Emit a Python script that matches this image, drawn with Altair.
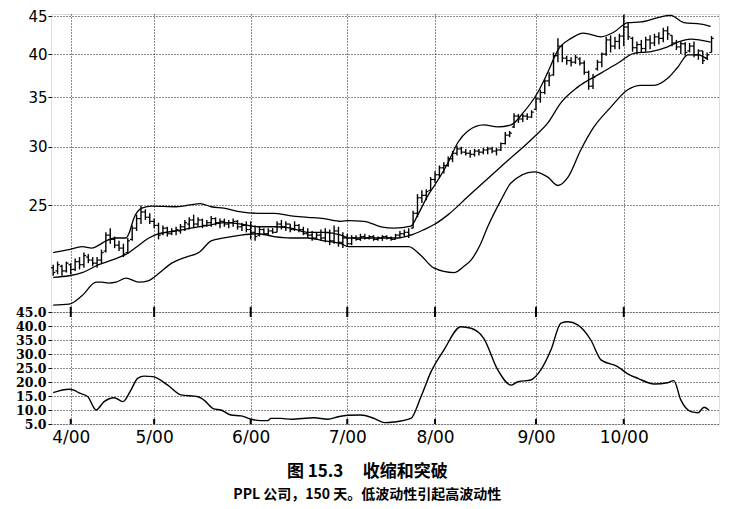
import altair as alt
import pandas as pd

# ---- OHLC price bars (trading-day index 0..150) ----
lows = [20.1, 20.2, 20.1, 20.3, 20.2, 20.4, 20.5, 20.6, 20.9, 20.7,
        20.6, 20.9, 21.6, 22.2, 21.9, 21.7, 21.3, 21.5, 22.4, 23.1,
        23.6, 23.9, 23.6, 23.3, 22.5, 22.8, 22.7, 22.8, 22.8, 22.9,
        23.1, 23.2, 23.3, 23.4, 23.3, 23.4, 23.4, 23.5, 23.3, 23.4,
        23.3, 23.4, 23.2, 23.1, 23.0, 22.5, 22.4, 22.7, 22.8, 22.8,
        22.9, 23.0, 23.2, 23.1, 23.0, 23.1, 23.0, 22.8, 22.6, 22.4,
        22.5, 22.4, 22.3, 22.1, 22.2, 22.0, 21.9, 22.0, 22.1, 22.4,
        22.4, 22.5, 22.5, 22.4, 22.4, 22.4, 22.5, 22.4, 22.5, 22.6,
        22.7, 22.6, 23.3, 24.1, 25.2, 25.4, 26.2, 26.8, 27.2, 27.6,
        28.2, 28.6, 29.2, 29.3, 29.2, 29.0, 29.1, 29.2, 29.3, 29.3,
        29.4, 29.2, 29.6, 30.2, 30.9, 31.8, 32.3, 32.4, 32.6, 32.8,
        33.6, 34.4, 35.3, 36.2, 37.4, 39.0, 39.0, 38.7, 38.5, 38.8,
        38.6, 37.5, 35.8, 35.9, 38.0, 38.4, 39.8, 40.2, 40.6, 40.6,
        41.0, 41.8, 40.3, 40.0, 40.2, 40.3, 40.6, 41.0, 41.2, 41.5,
        41.8, 41.0, 40.5, 40.0, 39.8, 40.2, 39.6, 39.3, 38.8, 39.4,
        40.2]
highs = [20.8, 21.0, 20.8, 21.0, 20.9, 21.2, 21.3, 21.6, 21.5, 21.3,
         21.3, 21.8, 23.0, 23.3, 22.7, 22.4, 22.2, 22.6, 23.5, 24.3,
         25.0, 24.7, 24.4, 24.0, 23.7, 23.5, 23.4, 23.3, 23.4, 23.6,
         23.9, 24.1, 24.3, 24.1, 24.0, 23.9, 24.2, 24.1, 24.0, 24.0,
         23.9, 24.0, 23.9, 23.7, 23.8, 23.8, 23.5, 23.4, 23.3, 23.3,
         23.3, 23.8, 23.9, 23.8, 23.6, 23.8, 23.6, 23.4, 23.3, 23.1,
         23.0, 23.2, 23.3, 23.2, 23.5, 23.4, 23.0, 22.9, 22.8, 22.8,
         22.9, 22.9, 22.8, 22.8, 22.7, 22.8, 22.8, 22.7, 22.9, 23.1,
         23.2, 23.3, 24.6, 25.9, 26.2, 26.3, 27.3, 27.8, 28.3, 28.6,
         29.1, 29.6, 30.1, 30.0, 29.8, 29.7, 29.8, 29.8, 29.9, 30.0,
         30.0, 29.9, 30.4, 31.4, 31.5, 33.3, 33.2, 33.2, 33.3, 33.6,
         35.0, 35.8, 37.0, 37.8, 40.2, 42.0, 41.2, 39.8, 39.6, 39.9,
         39.6, 39.2, 38.0, 37.6, 39.3, 40.2, 42.2, 42.4, 42.2, 42.6,
         45.2, 44.2, 42.2, 41.6, 41.8, 42.2, 42.4, 42.6, 42.8, 43.4,
         43.6, 42.4, 41.8, 41.6, 41.5, 41.4, 41.6, 40.6, 40.4, 40.2,
         42.3]
opens = [20.6, 20.4, 20.7, 20.4, 20.8, 20.5, 21.0, 20.8, 21.3, 21.1,
         20.9, 21.1, 21.7, 22.8, 22.5, 22.1, 21.9, 21.6, 22.5, 23.3,
         24.0, 24.5, 24.1, 23.8, 23.5, 22.9, 23.3, 22.9, 23.1, 23.1,
         23.4, 23.6, 23.9, 23.6, 23.9, 23.5, 23.7, 24.0, 23.7, 23.8,
         23.6, 23.7, 23.8, 23.4, 23.5, 23.2, 23.0, 22.8, 23.2, 22.9,
         23.1, 23.0, 23.6, 23.4, 23.6, 23.2, 23.5, 23.2, 22.9, 22.8,
         22.6, 22.8, 22.6, 23.0, 22.4, 23.1, 22.3, 22.6, 22.2, 22.6,
         22.5, 22.7, 22.6, 22.7, 22.5, 22.6, 22.7, 22.6, 22.5, 22.8,
         22.9, 23.0, 23.3, 24.4, 25.6, 25.8, 26.2, 27.1, 27.5, 28.1,
         28.3, 28.9, 29.4, 29.8, 29.5, 29.4, 29.3, 29.6, 29.5, 29.7,
         29.8, 29.6, 29.7, 30.3, 31.1, 31.9, 33.0, 32.7, 33.0, 32.9,
         33.7, 34.8, 35.5, 36.8, 37.5, 39.8, 41.0, 39.5, 39.2, 39.0,
         39.4, 38.9, 37.8, 36.2, 38.2, 39.0, 40.0, 41.8, 41.0, 41.6,
         42.3, 43.5, 42.0, 40.8, 41.2, 40.7, 41.8, 41.4, 42.2, 42.0,
         43.0, 42.4, 41.4, 40.9, 41.3, 40.4, 41.0, 39.9, 40.4, 39.5,
         40.2]
closes = [20.3, 20.8, 20.4, 20.9, 20.5, 21.0, 20.8, 21.4, 21.1, 20.9,
          21.1, 21.6, 22.8, 22.5, 22.1, 21.9, 21.5, 22.4, 23.3, 24.0,
          24.5, 24.1, 23.8, 23.5, 22.8, 23.3, 22.9, 23.1, 23.2, 23.4,
          23.7, 23.9, 23.6, 23.9, 23.5, 23.7, 24.0, 23.7, 23.8, 23.6,
          23.7, 23.8, 23.4, 23.5, 23.2, 23.0, 22.7, 23.2, 22.9, 23.1,
          23.0, 23.6, 23.4, 23.6, 23.2, 23.5, 23.2, 22.9, 22.8, 22.6,
          22.8, 22.6, 23.0, 22.4, 23.1, 22.3, 22.6, 22.2, 22.6, 22.5,
          22.7, 22.6, 22.7, 22.5, 22.6, 22.7, 22.6, 22.5, 22.8, 22.9,
          23.0, 22.8, 24.4, 25.6, 25.8, 26.1, 27.1, 27.5, 28.1, 28.3,
          28.9, 29.4, 29.8, 29.5, 29.4, 29.3, 29.6, 29.5, 29.7, 29.8,
          29.6, 29.7, 30.3, 31.1, 31.3, 33.0, 32.7, 33.0, 32.9, 33.4,
          34.8, 35.5, 36.8, 37.4, 39.8, 41.0, 39.5, 39.2, 39.0, 39.6,
          38.9, 37.8, 36.2, 37.2, 39.0, 40.0, 41.8, 41.0, 41.6, 42.3,
          43.5, 42.2, 40.8, 41.2, 40.7, 41.8, 41.4, 42.2, 42.0, 43.0,
          42.6, 41.4, 40.9, 41.3, 40.2, 41.0, 39.9, 40.4, 39.2, 39.9,
          42.0]

# ---- Bollinger bands (sampled points: day index, price) ----
upper_t = [0, 3.6, 6.6, 8.8, 10.4, 12, 14.3, 16.6, 17.3, 18.4, 20.2, 22.5, 28, 33.5,
           36, 38.9, 42.8, 46.7, 50.3, 54.2, 58, 61.7, 65.6, 67.2, 70.8, 74.7, 77.6,
           81.5, 83.1, 85.4, 86.7, 89.9, 92.2, 94.5, 98.1, 101.3, 104.3, 107.2, 110.4,
           112.6, 115, 118, 120.8, 124.8, 127.7, 130.9, 133.9, 137.8, 140.7, 143.7,
           147.6, 149.8]
upper_v = [21.6, 21.8, 22.0, 21.9, 22.1, 22.4, 22.6, 22.6, 22.95, 24.05, 24.8, 24.95, 24.9, 25.15,
           24.9, 24.8, 24.5, 24.4, 24.4, 24.2, 24.1, 24.0, 23.8, 23.85, 23.8, 23.4, 23.3,
           23.45, 24.3, 25.8, 26.5, 28.5, 30.4, 31.5, 32.1, 31.9, 32.1, 33.4, 35.5,
           37.7, 40.5, 42.0, 42.7, 42.2, 42.8, 44.1, 44.2, 44.8, 45.1, 44.1,
           43.9, 43.6]
middle_t = [0, 3.6, 6.6, 10.4, 14.3, 17.3, 19.5, 21.8, 24.1, 28, 31.4, 35.2, 38.9, 42.8,
            46.7, 50.3, 54.2, 58, 61.7, 65.6, 67.2, 70.8, 74.7, 78.5, 81.5, 84.5, 87,
            90, 94.5, 102, 109.5, 112.7, 115.7, 119.5, 124.8, 128.7, 132.3, 136.2,
            140, 142.3, 145.3, 149.8]
middle_v = [20.0, 20.1, 20.3, 20.8, 21.2, 21.6, 22.1, 22.6, 22.9, 23.1, 23.3, 23.5, 23.7, 23.6,
            23.4, 23.4, 23.3, 23.0, 23.0, 22.8, 22.6, 22.6, 22.6, 22.6, 22.8, 23.2, 23.6,
            24.3, 25.7, 28.2, 30.9, 32.3, 34.4, 36.1, 37.7, 38.9, 40.1, 40.3,
            40.9, 41.5, 41.9, 41.5]
lower_t = [0, 3.6, 6.6, 9.8, 11.1, 12.7, 14.3, 16.6, 19.5, 21.8, 24.1, 27, 30.3, 33.2,
           36, 38.9, 42.8, 46.7, 50.3, 54.2, 58, 61.7, 65.6, 67.2, 70.8, 74.7, 81,
           83.8, 86.7, 91.3, 93.6, 95.2, 97.4, 99, 102, 104.3, 109.5, 112.7, 115,
           117.3, 120.2, 123.2, 127, 130.9, 133.9, 136.9, 140, 142.3, 144.6, 146.9,
           149.2]
lower_v = [18.35, 18.4, 18.9, 19.7, 19.7, 19.65, 19.7, 19.95, 19.7, 19.8, 20.25, 20.9, 21.3, 21.6,
           22.4, 22.6, 22.8, 22.9, 22.7, 22.6, 22.6, 22.4, 22.2, 22.0, 22.0, 22.0, 22.0,
           21.4, 20.6, 20.3, 20.7, 21.1, 22.2, 23.4, 25.4, 26.8, 27.75, 27.3, 26.6,
           27.3, 29.7, 31.9, 33.9, 35.8, 36.3, 36.3, 37.1, 38.4, 39.9, 39.9,
           39.3]

# ---- BandWidth (lower panel) ----
bw_t = [0, 3.6, 4.7, 5.9, 7.9, 9.3, 9.75, 11.6, 13.9, 15.9, 17.7, 19.3, 20.7, 22.7,
        26.1, 29.1, 33, 34.3, 36.6, 38.2, 40.5, 42.8, 45.1, 47.3, 48.9, 49.6, 51.9,
        54.2, 59.4, 62.6, 64.9, 67.2, 70.1, 72.4, 73.1, 75.4, 77.6, 81.5, 83.8, 86.1,
        89, 92.9, 95.2, 98.1, 101.3, 104.3, 105.9, 108.8, 111.1, 113.4, 115.7, 117.3,
        119.5, 122.5, 124.8, 128.6, 130.9, 133.2, 136.9, 140, 141.4, 143, 145.3,
        146.9, 148.3, 149.4]
bw_v = [16.2, 17.4, 17.1, 16.1, 14.75, 10.7, 10.0, 13.0, 14.4, 13.0, 17.1, 21.4, 22.1, 21.9,
        18.9, 15.4, 14.75, 13.6, 10.4, 10.0, 8.2, 7.9, 6.7, 6.2, 6.2, 7.0, 7.0,
        6.7, 7.25, 6.7, 7.6, 8.1, 8.2, 7.4, 7.0, 5.5, 5.7, 7.0, 14.75, 23.7,
        31.4, 39.75, 39.2, 35.6, 24.3, 18.9, 20.1, 20.7, 24.3, 31.4, 41.0, 41.5,
        40.4, 35.0, 27.9, 25.5, 22.9, 21.3, 19.3, 19.75, 20.5, 13.6, 9.4,
        9.0, 11.0, 10.0]

month_ticks = [4, 23, 45, 67, 87, 110, 130]
month_labels = ["4/00", "5/00", "6/00", "7/00", "8/00", "9/00", "10/00"]
price_ticks = [25, 30, 35, 40, 45]
bw_ticks = [5, 10, 15, 20, 25, 30, 35, 40, 45]

days = list(range(len(closes)))
bars = pd.DataFrame({"day": days, "low": lows, "high": highs, "open": opens, "close": closes})
bands = pd.concat([
    pd.DataFrame({"t": upper_t, "v": upper_v, "band": "upper"}),
    pd.DataFrame({"t": middle_t, "v": middle_v, "band": "middle"}),
    pd.DataFrame({"t": lower_t, "v": lower_v, "band": "lower"}),
])
bw = pd.DataFrame({"t": bw_t, "v": bw_v})
months = pd.DataFrame({"m": month_ticks})

label_expr = " : ".join(
    f"datum.value == {v} ? '{l}'" for v, l in zip(month_ticks, month_labels)
) + " : ''"

X_DOM = [-0.5, 151.7]
P_DOM = [17.96, 45.3]
xs = alt.Scale(domain=X_DOM, nice=False, zero=False)
ys = alt.Scale(type="log", domain=P_DOM, nice=False)
bs = alt.Scale(domain=[5, 45], nice=False, zero=False)

grid_kw = dict(grid=True, gridColor="black", gridDash=[1, 2], gridWidth=1, gridOpacity=0.9)
x_axis_top = alt.Axis(values=month_ticks, labels=False, ticks=False, domain=False, title=None, **grid_kw)
y_axis_top = alt.Axis(values=price_ticks, title=None, domain=False, ticks=True, tickSize=3,
                      tickColor="black", labelPadding=1, labelFont="DejaVu Sans",
                      labelFontSize=15, labelColor="black", labelOverlap=False, **grid_kw)
x_axis_bot = alt.Axis(values=month_ticks, labelExpr=label_expr, ticks=False, domain=False,
                      title=None, labelFont="DejaVu Sans", labelFontSize=17, labelColor="black",
                      labelPadding=5, labelFlush=False, labelOverlap=False, **grid_kw)
y_axis_bot = alt.Axis(values=bw_ticks, format=".1f", title=None, domain=False, ticks=True,
                      tickSize=3, tickColor="black", labelPadding=2,
                      labelFont="DejaVu Serif", labelFontWeight="bold", labelFontSize=12.5,
                      labelColor="black", labelOverlap=False, labelBound=False, **grid_kw)

def xt(field):
    return alt.X(field, scale=xs, axis=x_axis_top)

def yt(field):
    return alt.Y(field, scale=ys, axis=y_axis_top)

hl = alt.Chart(bars).mark_rule(color="black", strokeWidth=1.4).encode(
    x=xt("day:Q"), y=yt("low:Q"), y2="high:Q")
op = alt.Chart(bars).transform_calculate(xl="datum.day - 0.5").mark_rule(
    color="black", strokeWidth=1.2).encode(x=xt("xl:Q"), x2="day:Q", y=yt("open:Q"))
cl = alt.Chart(bars).transform_calculate(xr="datum.day + 0.5").mark_rule(
    color="black", strokeWidth=1.2).encode(x=xt("day:Q"), x2="xr:Q", y=yt("close:Q"))
bl = alt.Chart(bands).mark_line(color="black", strokeWidth=1.3, interpolate="monotone").encode(
    x=xt("t:Q"), y=yt("v:Q"), detail="band:N")
mt_top = alt.Chart(months).mark_rule(color="black", strokeWidth=2).encode(
    x=xt("m:Q"),
    y=alt.YDatum(P_DOM[0], scale=ys, axis=y_axis_top),
    y2=alt.Y2Datum(18.25))

top = alt.layer(hl, op, cl, bl, mt_top).properties(width=668, height=298)

def xb(field):
    return alt.X(field, scale=xs, axis=x_axis_bot)

bwl = alt.Chart(bw).mark_line(color="black", strokeWidth=1.4, interpolate="monotone").encode(
    x=xb("t:Q"), y=alt.Y("v:Q", scale=bs, axis=y_axis_bot))
mt_b1 = alt.Chart(months).mark_rule(color="black", strokeWidth=2).encode(
    x=xb("m:Q"), y=alt.YDatum(45, scale=bs, axis=y_axis_bot), y2=alt.Y2Datum(43.2))
mt_b2 = alt.Chart(months).mark_rule(color="black", strokeWidth=2).encode(
    x=xb("m:Q"), y=alt.YDatum(5, scale=bs, axis=y_axis_bot), y2=alt.Y2Datum(6.8))

bottom = alt.layer(bwl, mt_b1, mt_b2).properties(width=668, height=112)

SP = "\u00a0"
chart = alt.vconcat(top, bottom, spacing=0, bounds="flush").properties(
    padding={"left": 7, "top": 0, "right": 4, "bottom": 0},
    title=alt.TitleParams(
        text="图 15.3" + SP * 5 + "收缩和突破",
        subtitle="PPL 公司，150 天。低波动性引起高波动性",
        orient="bottom", anchor="middle",
        font="Noto Sans CJK SC", fontSize=17, fontWeight="bold", color="black",
        subtitleFont="Noto Sans CJK SC", subtitleFontSize=14, subtitleFontWeight="bold",
        subtitleColor="black", subtitlePadding=7, offset=18,
    ),
).configure_view(stroke="black", strokeWidth=1.6).configure(background="white")

chart.save("out.html", embed_options={"renderer": "svg", "actions": False})
